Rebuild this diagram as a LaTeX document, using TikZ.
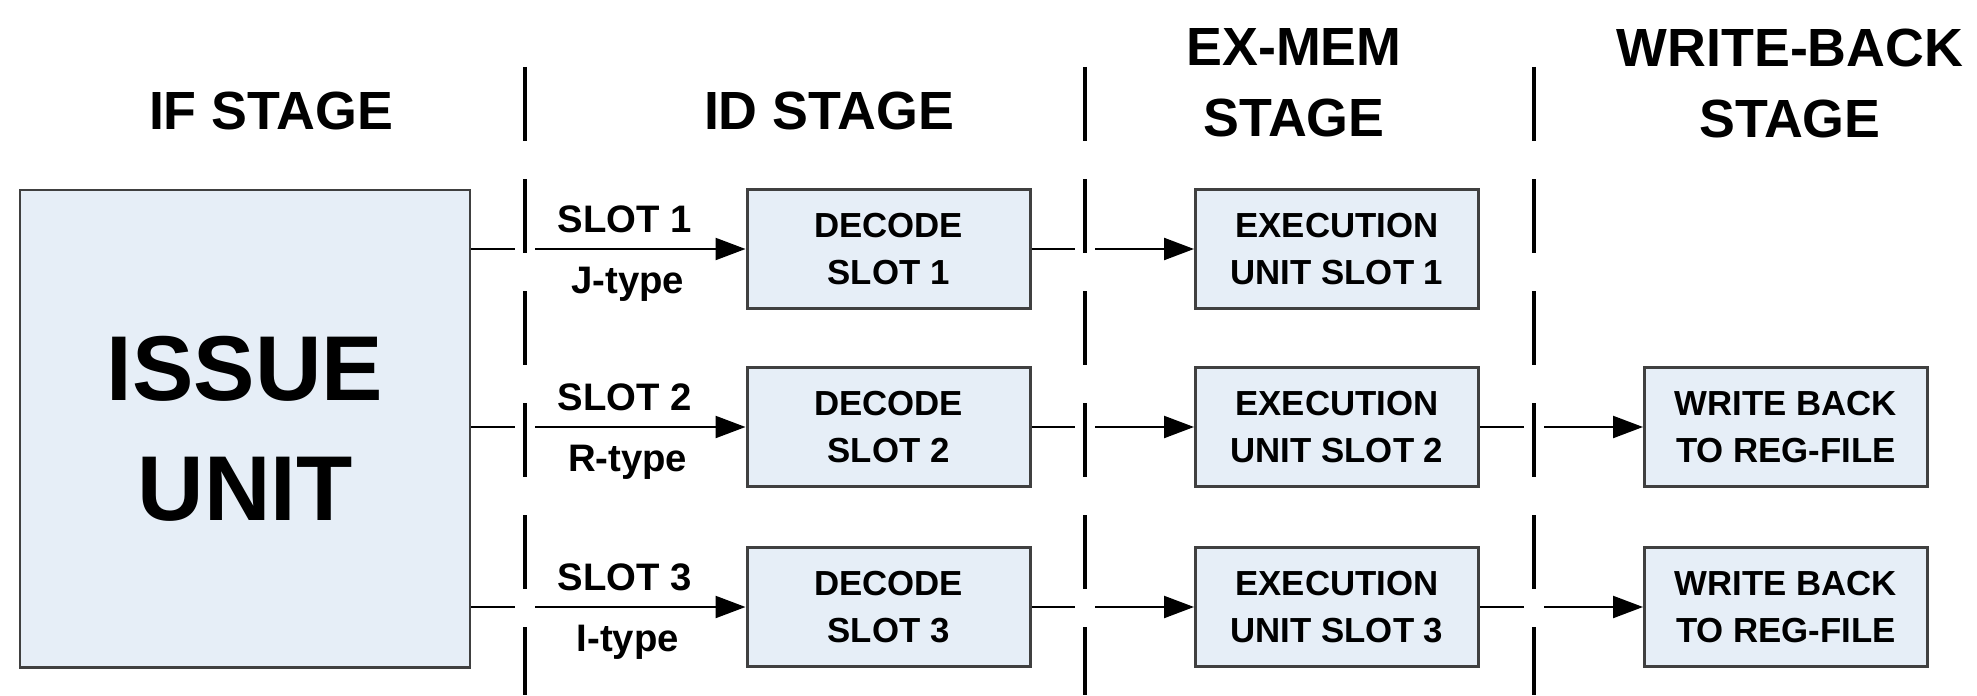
\documentclass[tikz,border=0pt]{standalone}
\usepackage{fontspec}
\setmainfont{Liberation Sans}
\usetikzlibrary{arrows.meta}
\definecolor{unitfill}{RGB}{230,238,247}
\tikzset{
  unit/.style={draw=black!75, line width=0.85pt, fill=unitfill, align=center, inner sep=0pt,
    minimum width=2.83cm, minimum height=1.19cm, font=\fontsize{9.9}{13.4}\selectfont\bfseries},
  stage/.style={align=center, font=\fontsize{15.3}{20.2}\selectfont\bfseries},
  slot/.style={font=\fontsize{10.9}{13}\selectfont\bfseries},
  link/.style={line width=0.65pt, -{Triangle[length=0.3cm,width=0.22cm]}},
  divider/.style={line width=1.4pt, dash pattern=on 0.74cm off 0.38cm,
    preaction={draw=white, solid, line width=0.2cm}}
}
\begin{document}
\begin{tikzpicture}
\useasboundingbox (0,0) rectangle (19.77,6.95);
\node[stage] (ifst) at (2.71,5.84) {IF STAGE};
\node[stage] (idst) at (8.29,5.84) {ID STAGE};
\node[stage] (exst) at (12.94,6.12) {EX-MEM\\STAGE};
\node[stage] (wbst) at (17.90,6.12) {WRITE-BACK\\STAGE};
\node[unit, minimum width=4.5cm, minimum height=4.77cm, font=\fontsize{26.2}{34.1}\selectfont\bfseries] (issue) at (2.45,2.665) {ISSUE\\UNIT};
\foreach \i/\y/\t in {1/4.46/J,2/2.68/R,3/0.88/I} {
  \node[unit] (dec\i) at (8.885,\y) {DECODE\\SLOT \i};
  \node[unit] (exe\i) at (13.37,\y) {EXECUTION\\UNIT SLOT \i};
  \draw[link] (issue.east |- dec\i) -- node[slot, above=1pt, pos=0.56] {SLOT \i} node[slot, below=1.5pt, pos=0.57] {\t-type} (dec\i);
  \draw[link] (dec\i) -- (exe\i);
}
\foreach \i/\y in {2/2.68,3/0.88} {
  \node[unit] (wb\i) at (17.86,\y) {WRITE BACK\\TO REG-FILE};
  \draw[link] (exe\i) -- (wb\i);
}
\foreach \x in {5.25,10.85,15.34}
  \draw[divider] (\x,6.28) -- (\x,0);
\end{tikzpicture}
\end{document}
